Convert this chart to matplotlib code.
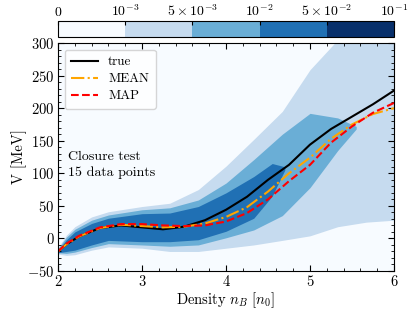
import numpy as np
import matplotlib
matplotlib.use("Agg")
import matplotlib.pyplot as plt
from matplotlib.colors import ListedColormap, BoundaryNorm
from matplotlib.cm import ScalarMappable

# fuente tipo LaTeX
plt.rcParams['font.family'] = 'serif'
plt.rcParams['font.serif'] = ['cmr10']
plt.rcParams['mathtext.fontset'] = 'cm'
plt.rcParams['axes.formatter.use_mathtext'] = True

# curvas: verdadera, media y MAP
x_line = [2.0, 2.1, 2.25, 2.5, 2.75, 3.0, 3.25, 3.5, 3.75, 4.0, 4.25, 4.5, 4.75, 5.0, 5.25, 5.5, 5.75, 6.0]
v_true = [-20, -9, 3, 16, 20, 17, 14, 18, 28, 44, 64, 90, 113, 144, 168, 187, 206, 227]
v_mean = [-20, -9, 3, 16, 21, 19, 17, 18, 23, 33, 48, 72, 100, 124, 153, 175, 191, 200]
v_map = [-20, -8, 4, 17, 22, 22, 20, 19, 20, 26, 39, 60, 88, 113, 147, 172, 193, 208]

# bandas de densidad posterior (limites)
x_b1 = [2.0, 2.1, 2.2, 2.4, 2.6, 3.0, 3.33, 3.67, 4.0, 4.33, 4.67, 5.0, 5.33, 5.67, 6.0]
b1_top = [-14, 5, 18, 33, 41, 49, 54, 75, 111, 152, 195, 259, 305, 320, 320]
b1_bot = [-24, -26, -25, -18, -13, -15, -20, -20, -15, -10, -3, 4, 18, 25, 28]

x_b2 = [2.0, 2.1, 2.2, 2.4, 2.6, 3.0, 3.33, 3.67, 4.0, 4.33, 4.67, 5.0, 5.33, 5.55]
b2_top = [-16, 2, 14, 28, 36, 44, 47, 59, 85, 121, 160, 192, 185, 172]
b2_bot = [-22, -23, -21, -14, -8, -10, -12, -10, 1, 13, 35, 78, 135, 168]

x_b3 = [2.0, 2.1, 2.2, 2.4, 2.6, 3.0, 3.33, 3.67, 4.0, 4.33, 4.55, 4.7]
b3_top = [-18, -2, 10, 23, 31, 38, 39, 49, 70, 95, 115, 110]
b3_bot = [-22, -20, -18, -10, -3, -5, -5, -2, 11, 31, 65, 105]

# escala de colores
bounds = [0, 1e-3, 5e-3, 1e-2, 5e-2, 1e-1]
bound_labels = [r'$0$', r'$10^{-3}$', r'$5\times10^{-3}$', r'$10^{-2}$', r'$5\times10^{-2}$', r'$10^{-1}$']

blues = plt.get_cmap('Blues')
colors = [blues(v) for v in np.linspace(0, 1, 5)]
cmap = ListedColormap(colors)
norm = BoundaryNorm(bounds, cmap.N)

fig = plt.figure(figsize=(4.15, 3.11), dpi=100)
ax = fig.add_axes([0.1398, 0.1286, 0.8096, 0.7331])
cax = fig.add_axes([0.1398, 0.881, 0.8096, 0.0514])

ax.set_facecolor(colors[0])
ax.fill_between(x_b1, b1_bot, b1_top, color=colors[1], lw=0)
ax.fill_between(x_b2, b2_bot, b2_top, color=colors[2], lw=0)
ax.fill_between(x_b3, b3_bot, b3_top, color=colors[3], lw=0)

ax.plot(x_line, v_true, color='black', lw=1.5, label='true')
ax.plot(x_line, v_mean, color='orange', lw=1.5, ls='-.', label='MEAN')
ax.plot(x_line, v_map, color='red', lw=1.5, ls='--', label='MAP')

ax.set_xlim(2, 6)
ax.set_ylim(-50, 300)
ax.set_xticks([2, 3, 4, 5, 6])
ax.set_xticks(np.arange(2, 6.01, 0.2), minor=True)
ax.set_yticks(np.arange(-50, 301, 50))
ax.set_yticks(np.arange(-50, 301, 10), minor=True)
ax.tick_params(which='both', direction='in', top=True, right=True, labelsize=10.5, pad=2.5)
ax.tick_params(which='major', length=4)
ax.tick_params(which='minor', length=2)
ax.set_xlabel(r'Density $n_B$ [$n_0$]', fontsize=10.5, labelpad=1)
ax.set_ylabel('V [MeV]', fontsize=10.5, labelpad=0)

ax.legend(loc='upper left', fontsize=9.5, handlelength=2.0, borderpad=0.5, labelspacing=0.35)
ax.text(2.12, 135, 'Closure test\n15 data points', fontsize=10, linespacing=1.4, va='top')

sm = ScalarMappable(norm=norm, cmap=cmap)
cbar = fig.colorbar(sm, cax=cax, orientation='horizontal', ticks=bounds, spacing='uniform')
cax.xaxis.set_ticks_position('top')
cax.set_xticklabels(bound_labels)
cax.tick_params(direction='in', labelsize=10, length=3, pad=1.5)

fig.savefig('out.png', dpi=100)
